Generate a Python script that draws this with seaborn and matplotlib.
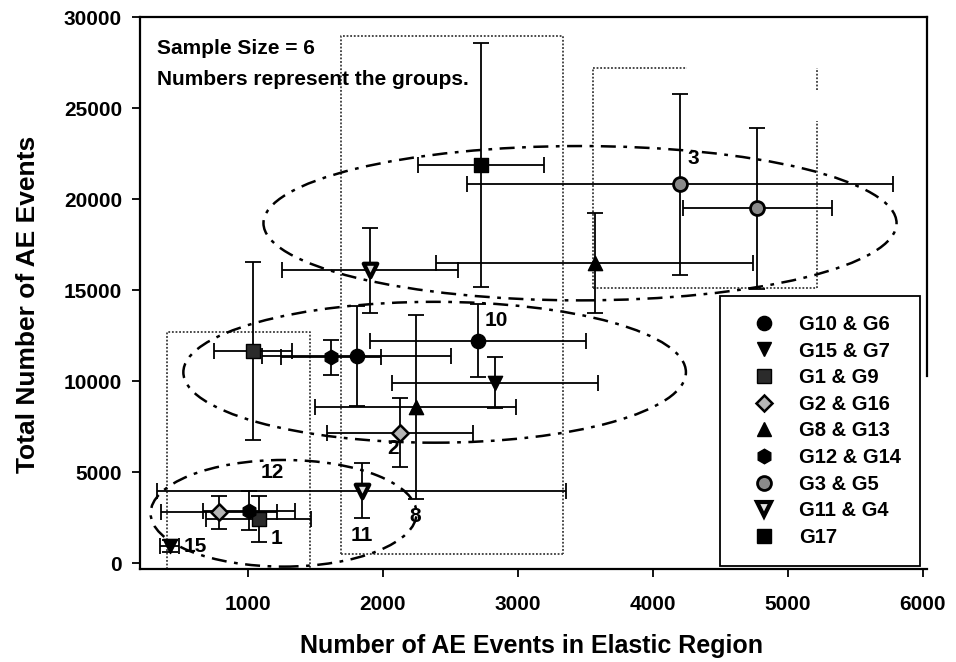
import numpy as np
import pandas as pd
import matplotlib
matplotlib.use("Agg")
import matplotlib.pyplot as plt
from matplotlib.patches import Ellipse
from matplotlib.lines import Line2D
import seaborn as sns

# ---------------- data ----------------
groups = ['G10', 'G6', 'G12', 'G14', 'G15', 'G7', 'G1', 'G9', 'G2', 'G16',
          'G8', 'G13', 'G3', 'G5', 'G11', 'G4', 'G17']
pairs = ['G10 & G6', 'G10 & G6', 'G12 & G14', 'G12 & G14', 'G15 & G7', 'G15 & G7',
         'G1 & G9', 'G1 & G9', 'G2 & G16', 'G2 & G16', 'G8 & G13', 'G8 & G13',
         'G3 & G5', 'G3 & G5', 'G11 & G4', 'G11 & G4', 'G17']
elastic_mean = [2705, 1805, 1007, 1612, 422, 2830, 1080, 1037, 2125, 788,
                2242, 3570, 4200, 4773, 1842, 1904, 2727]
elastic_err = [800, 700, 340, 370, 70, 760, 390, 288, 542, 430,
               747, 1175, 1580, 550, 1515, 650, 465]
total_mean = [12230, 11390, 2900, 11320, 950, 9925, 2440, 11680, 7175, 2800,
              8600, 16480, 20820, 19500, 4000, 16110, 21880]
total_err = [2000, 2750, 1070, 970, 330, 1400, 1240, 4900, 1900, 900,
             5050, 2750, 4960, 4400, 1530, 2340, 6700]

legend_order = ['G10 & G6', 'G15 & G7', 'G1 & G9', 'G2 & G16', 'G8 & G13',
                'G12 & G14', 'G3 & G5', 'G11 & G4', 'G17']

# group number annotations (label, x, y)
num_labels = ['12', '1', '15', '11', '8', '2', '10', '3']
num_x = [1183, 1215, 610, 1842, 2237, 2076, 2841, 4298]
num_y = [4980, 1390, 910, 1555, 2560, 6320, 13330, 22250]

# grouping ellipses (center x, center y, width, height)
ell_cx = [1264, 2383, 3460]
ell_cy = [2750, 10500, 18690]
ell_w = [1970, 3723, 4690]
ell_h = [5860, 7740, 8480]

# dotted rectangles (x0, x1, y0, y1)
rect_x0 = [400, 1690, 3558]
rect_x1 = [1460, 3331, 5212]
rect_y0 = [-300, 510, 15110]
rect_y1 = [12730, 28990, 27230]

x_ticks = [1000, 2000, 3000, 4000, 5000, 6000]
y_ticks = [0, 5000, 10000, 15000, 20000, 25000, 30000]

df = pd.DataFrame({'group': groups, 'pair': pairs,
                   'x': elastic_mean, 'xerr': elastic_err,
                   'y': total_mean, 'yerr': total_err})

# ---------------- style ----------------
marker_style = {
    'G10 & G6':  dict(marker='o', fc='black', ec='black', s=105, lw=1.0),
    'G15 & G7':  dict(marker='v', fc='black', ec='black', s=105, lw=1.0),
    'G1 & G9':   dict(marker='s', fc='#2b2b2b', ec='black', s=90, lw=1.0),
    'G2 & G16':  dict(marker='D', fc='#b5b5b5', ec='black', s=70, lw=1.8),
    'G8 & G13':  dict(marker='^', fc='black', ec='black', s=105, lw=1.0),
    'G12 & G14': dict(marker='h', fc='black', ec='black', s=110, lw=1.0),
    'G3 & G5':   dict(marker='o', fc='#8a8a8a', ec='black', s=100, lw=2.0),
    'G11 & G4':  dict(marker='v', fc='#e0e0e0', ec='black', s=95, lw=3.0),
    'G17':       dict(marker='s', fc='black', ec='black', s=90, lw=1.0),
}

sns.set_theme(style='ticks')
plt.rcParams['font.family'] = ['Liberation Sans', 'DejaVu Sans']
plt.rcParams['font.weight'] = 'bold'
plt.rcParams['text.color'] = 'black'
plt.rcParams['axes.labelcolor'] = 'black'
plt.rcParams['xtick.color'] = 'black'
plt.rcParams['ytick.color'] = 'black'

fig = plt.figure(figsize=(9.56, 6.62), dpi=100)
ax = fig.add_axes([0.1464, 0.1405, 0.8232, 0.8338])

# error bars
ax.errorbar(df['x'], df['y'], xerr=df['xerr'], yerr=df['yerr'], fmt='none',
            ecolor='black', elinewidth=1.3, capsize=6, capthick=1.3, zorder=2)

# markers via seaborn
for p in legend_order:
    st = marker_style[p]
    sub = df[df['pair'] == p]
    sns.scatterplot(data=sub, x='x', y='y', marker=st['marker'], color=st['fc'],
                    edgecolor=st['ec'], linewidth=st['lw'], s=st['s'],
                    ax=ax, legend=False, zorder=4)

# ellipses
for cx, cy, w, h in zip(ell_cx, ell_cy, ell_w, ell_h):
    ax.add_patch(Ellipse((cx, cy), w, h, fill=False, edgecolor='black',
                         linewidth=1.8, linestyle=(0, (6, 3, 1.5, 3)), zorder=3))

# dotted rectangles
dot = dict(color='#3a3a3a', linewidth=1.3, linestyle=(0, (1, 1)), zorder=1)
for i, (x0, x1, y0, y1) in enumerate(zip(rect_x0, rect_x1, rect_y0, rect_y1)):
    if i < 2:
        ax.plot([x0, x0, x1, x1], [y0, y1, y1, y0], **dot)
        if i == 1:
            ax.plot([x0, x1], [y0, y0], **dot)
    else:
        ax.plot([x0, x0], [y0, y1], **dot)
        ax.plot([x0, x1], [y0, y0], **dot)
        ax.plot([x0, x0 + 0.42 * (x1 - x0)], [y1, y1], **dot)
        ax.plot([x1, x1], [y0, 24300], **dot)
        ax.plot([x1, x1], [26000, y1], **dot)

# group numbers
for t, x, y in zip(num_labels, num_x, num_y):
    ax.text(x, y, t, fontsize=15, fontweight='bold', ha='center', va='center', zorder=5)

ax.text(0.022, 0.943, 'Sample Size = 6', transform=ax.transAxes, fontsize=15,
        fontweight='bold', ha='left', va='center')
ax.text(0.022, 0.886, 'Numbers represent the groups.', transform=ax.transAxes,
        fontsize=15, fontweight='bold', ha='left', va='center')

ax.set_xlim(200, 6030)
ax.set_ylim(-310, 30020)
ax.set_xticks(x_ticks)
ax.set_yticks(y_ticks)
ax.set_xticklabels([str(v) for v in x_ticks], fontsize=15, fontweight='bold')
ax.set_yticklabels([str(v) for v in y_ticks], fontsize=15, fontweight='bold')
ax.tick_params(direction='out', length=6, width=1.3, colors='black')
ax.tick_params(axis='x', pad=13)
ax.tick_params(axis='y', pad=7)
ax.set_xlabel('')
ax.set_ylabel('')
for side in ['left', 'bottom', 'top', 'right']:
    ax.spines[side].set_color('black')
    ax.spines[side].set_linewidth(1.6)
ax.spines['right'].set_bounds(10300, 30020)

fig.text(532 / 956, 1 - 646 / 662, 'Number of AE Events in Elastic Region',
         fontsize=18, fontweight='bold', ha='center', va='center')
fig.text(28 / 956, 1 - 304 / 662, 'Total Number of AE Events', rotation=90,
         fontsize=19, fontweight='bold', ha='center', va='center')

handles = []
for p in legend_order:
    st = marker_style[p]
    handles.append(Line2D([], [], linestyle='none', marker=st['marker'],
                          markerfacecolor=st['fc'], markeredgecolor=st['ec'],
                          markeredgewidth=st['lw'], markersize=np.sqrt(st['s'])))
leg = ax.legend(handles, legend_order, loc='lower right',
                bbox_to_anchor=(0.991, 0.005), bbox_transform=ax.transAxes,
                prop={'size': 14.5, 'weight': 'bold'}, frameon=True,
                fancybox=False, framealpha=1, edgecolor='black',
                borderpad=0.95, handlelength=2.4, handletextpad=0.55,
                labelspacing=0.38, borderaxespad=0)
leg.get_frame().set_linewidth(1.3)
leg.set_zorder(6)

fig.savefig('out.png', dpi=100)
